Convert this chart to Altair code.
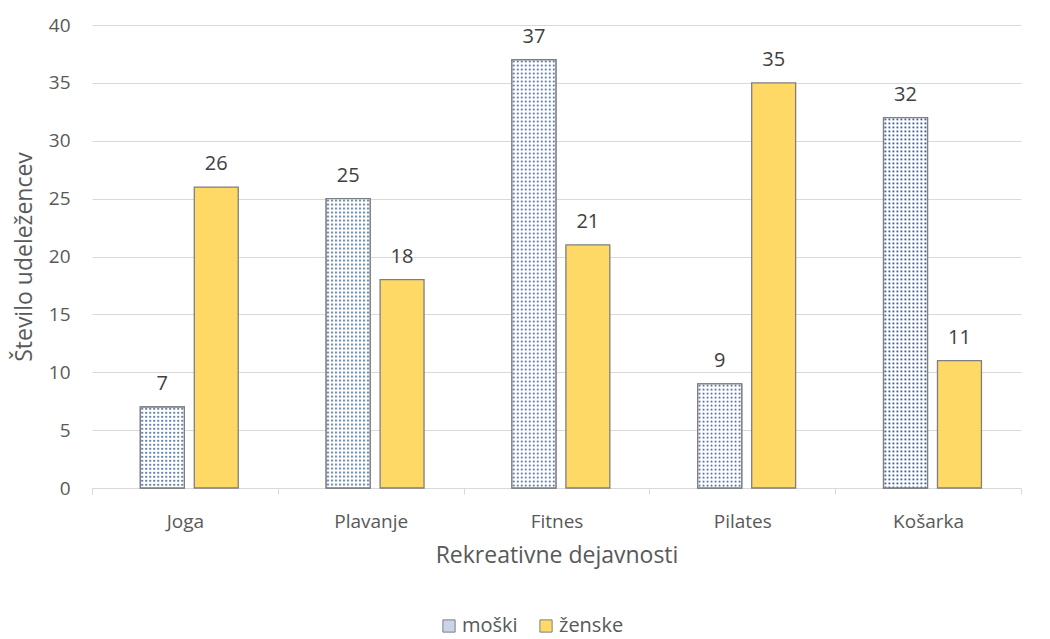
import altair as alt
import pandas as pd
import urllib.parse

categories = ["Joga", "Plavanje", "Fitnes", "Pilates", "Košarka"]
series = ["moški", "ženske"]
moski = [7, 25, 37, 9, 32]
zenske = [26, 18, 21, 35, 11]

rows = []
for c, m, z in zip(categories, moski, zenske):
    rows.append({"kat": c, "spol": "moški", "v": m})
    rows.append({"kat": c, "spol": "ženske", "v": z})
df = pd.DataFrame(rows)

FONT = "Open Sans"
GREY = "#595959"

svg = ("<svg xmlns='http://www.w3.org/2000/svg' width='100%' height='100%'>"
       "<defs><pattern id='d' width='4' height='4' patternUnits='userSpaceOnUse'>"
       "<rect x='1' y='1' width='1.7' height='1.7' fill='#2f5597'/></pattern></defs>"
       "<rect width='100%' height='100%' fill='#ffffff'/>"
       "<rect width='100%' height='100%' fill='url(#d)'/></svg>")
dots_url = "data:image/svg+xml;charset=utf-8," + urllib.parse.quote(svg)

x_enc = alt.X("kat:N", sort=categories,
              scale=alt.Scale(paddingInner=0, paddingOuter=0),
              axis=alt.Axis(title="Rekreativne dejavnosti", labelAngle=0,
                            tickBand="extent", tickSize=6, tickColor="#d9d9d9",
                            domainColor="#d9d9d9", labelPadding=18,
                            titlePadding=13, grid=False))
xo_enc = alt.XOffset("spol:N", sort=series,
                     scale=alt.Scale(domain=series, paddingInner=0.185,
                                     paddingOuter=0.815, align=0.55))
y_enc = alt.Y("v:Q", scale=alt.Scale(domain=[0, 40]),
              axis=alt.Axis(title="Število udeležencev", values=list(range(0, 41, 5)),
                            domain=False, ticks=False, labelPadding=22,
                            titlePadding=12, gridColor="#d9d9d9"))

base = alt.Chart(df)

bars = base.mark_bar(stroke="#7f7f7f", strokeWidth=1.3).encode(
    x=x_enc, xOffset=xo_enc, y=y_enc,
    color=alt.Color("spol:N", sort=series,
                    scale=alt.Scale(domain=series, range=["#c9d3ea", "#ffd966"]),
                    legend=alt.Legend(title=None, orient="none", direction="horizontal",
                                      legendX=347, legendY=591,
                                      symbolType="square", symbolSize=150,
                                      symbolStrokeColor="#7f7f7f", symbolStrokeWidth=1,
                                      labelFontSize=20, labelColor=GREY, labelFont=FONT,
                                      columnPadding=18, labelOffset=3)),
)

dots = base.transform_filter(alt.datum.spol == "moški").mark_image(aspect=False).encode(
    x=x_enc, xOffset=xo_enc, y=y_enc, y2=alt.datum(0),
    url=alt.value(dots_url),
)

outline = base.transform_filter(alt.datum.spol == "moški").mark_bar(
    fillOpacity=0, stroke="#7f7f7f", strokeWidth=1.3).encode(
    x=x_enc, xOffset=xo_enc, y=y_enc,
)

labels = base.mark_text(baseline="bottom", dy=-13, fontSize=20, color="#404040", font=FONT).encode(
    x=x_enc, xOffset=xo_enc, y=y_enc, text="v:Q",
)

chart = alt.layer(bars, dots, outline, labels).properties(
    width=929, height=463, background="white",
    padding={"left": 5, "top": 8, "right": 5, "bottom": 2}
).configure_view(stroke=None).configure_axis(
    labelFont=FONT, titleFont=FONT, labelFontSize=19, titleFontSize=23,
    labelColor=GREY, titleColor=GREY, titleFontWeight="normal"
).configure_legend(labelFontSize=20, labelFont=FONT, labelColor=GREY)

chart.save("out.html", embed_options={"renderer": "svg", "actions": False})
